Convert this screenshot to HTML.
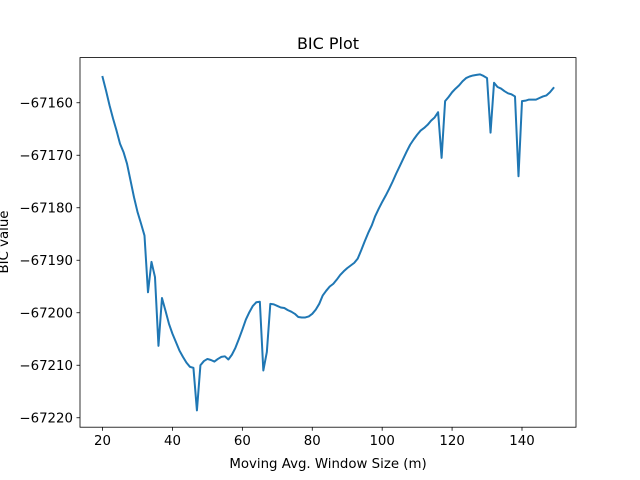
<!DOCTYPE html>
<html><head><meta charset="utf-8"><style>
body{margin:0;background:#fff}
svg{display:block;font-family:"DejaVu Sans","Liberation Sans",sans-serif}
</style></head><body>
<svg id="chart" width="640" height="480" viewBox="0 0 640 480" xmlns="http://www.w3.org/2000/svg">
<rect width="640" height="480" fill="#fff"/>
<text x="328" y="49" text-anchor="middle" font-size="16" fill="#000">BIC Plot</text>
<text x="328" y="468" text-anchor="middle" font-size="13.33" fill="#000">Moving Avg. Window Size (m)</text>
<text transform="translate(8,242) rotate(-90)" text-anchor="middle" font-size="13.33" fill="#000">BIC value</text>
<g id="ticks"></g>
<path id="line" fill="none" stroke="#1f77b4" stroke-width="2" stroke-linejoin="round" stroke-linecap="square"/>
<rect x="80" y="57.6" width="496" height="369.6" fill="none" stroke="#000" stroke-width="0.8"/>
</svg>
<script>
const xStart = 20;
const bicValues = [
-67155.1,-67157.7,-67160.5,-67163.0,-67165.3,-67167.8,-67169.4,-67171.6,-67174.8,-67178.0,
-67180.8,-67183.0,-67185.3,-67196.1,-67190.3,-67193.2,-67206.3,-67197.2,-67199.6,-67202.1,
-67204.0,-67205.6,-67207.2,-67208.4,-67209.5,-67210.3,-67210.5,-67218.6,-67210.0,-67209.2,
-67208.8,-67209.0,-67209.3,-67208.8,-67208.4,-67208.3,-67208.9,-67208.0,-67206.7,-67205.0,
-67203.2,-67201.3,-67199.9,-67198.7,-67198.0,-67197.9,-67211.0,-67207.5,-67198.3,-67198.4,
-67198.7,-67199.0,-67199.1,-67199.5,-67199.8,-67200.2,-67200.8,-67200.9,-67200.9,-67200.7,
-67200.2,-67199.4,-67198.3,-67196.7,-67195.8,-67195.0,-67194.5,-67193.7,-67192.8,-67192.1,
-67191.5,-67191.0,-67190.5,-67189.7,-67188.1,-67186.4,-67184.8,-67183.4,-67181.6,-67180.2,
-67178.9,-67177.7,-67176.4,-67175.0,-67173.5,-67172.1,-67170.7,-67169.3,-67168.0,-67167.0,
-67166.1,-67165.3,-67164.8,-67164.2,-67163.4,-67162.8,-67161.8,-67170.5,-67159.7,-67158.9,
-67158.0,-67157.3,-67156.7,-67155.9,-67155.3,-67155.0,-67154.8,-67154.7,-67154.6,-67154.9,
-67155.3,-67165.7,-67156.2,-67157.0,-67157.3,-67157.8,-67158.2,-67158.4,-67158.8,-67174.0,
-67159.7,-67159.6,-67159.4,-67159.4,-67159.4,-67159.1,-67158.8,-67158.6,-67158.0,-67157.2
];
const xTicks = [20,40,60,80,100,120,140];
const yTicks = [-67220,-67210,-67200,-67190,-67180,-67170,-67160];

const L=80,R=576,T=57.6,B=427.2;
const xs = bicValues.map((v,i)=>xStart+i);
const xmin0=Math.min(...xs), xmax0=Math.max(...xs);
const ymin0=Math.min(...bicValues), ymax0=Math.max(...bicValues);
const xp=(xmax0-xmin0)*0.05, yp=(ymax0-ymin0)*0.05;
const x0=xmin0-xp, x1=xmax0+xp, y0=ymin0-yp, y1=ymax0+yp;
const sx=x=>L+(x-x0)/(x1-x0)*(R-L);
const sy=y=>B-(y-y0)/(y1-y0)*(B-T);
const NS="http://www.w3.org/2000/svg";
const g=document.getElementById('ticks');
function mk(tag,attrs,txt){const e=document.createElementNS(NS,tag);for(const k in attrs)e.setAttribute(k,attrs[k]);if(txt!==undefined)e.textContent=txt;g.appendChild(e);return e;}
xTicks.forEach(t=>{
  const X=sx(t);
  const l=mk('line',{x1:X,x2:X,y1:B,y2:B+3.5,stroke:'#000','stroke-width':0.8});
  
  
  const s=mk('text',{x:X,y:B+18,'text-anchor':'middle','font-size':13.33,fill:'#000'},String(t));
  
  
});
yTicks.forEach(t=>{
  const Y=sy(t);
  const l=mk('line',{x1:L-3.5,x2:L,y1:Y,y2:Y,stroke:'#000','stroke-width':0.8});
  
  
  const s=mk('text',{x:L-7,y:Y+4.8,'text-anchor':'end','font-size':13.33,fill:'#000'},'\u2212'+String(Math.abs(t)));
  
  
});
document.getElementById('line').setAttribute('d',bicValues.map((v,i)=>(i?'L':'M')+sx(xs[i]).toFixed(2)+' '+sy(v).toFixed(2)).join(' '));
</script>
</body></html>
